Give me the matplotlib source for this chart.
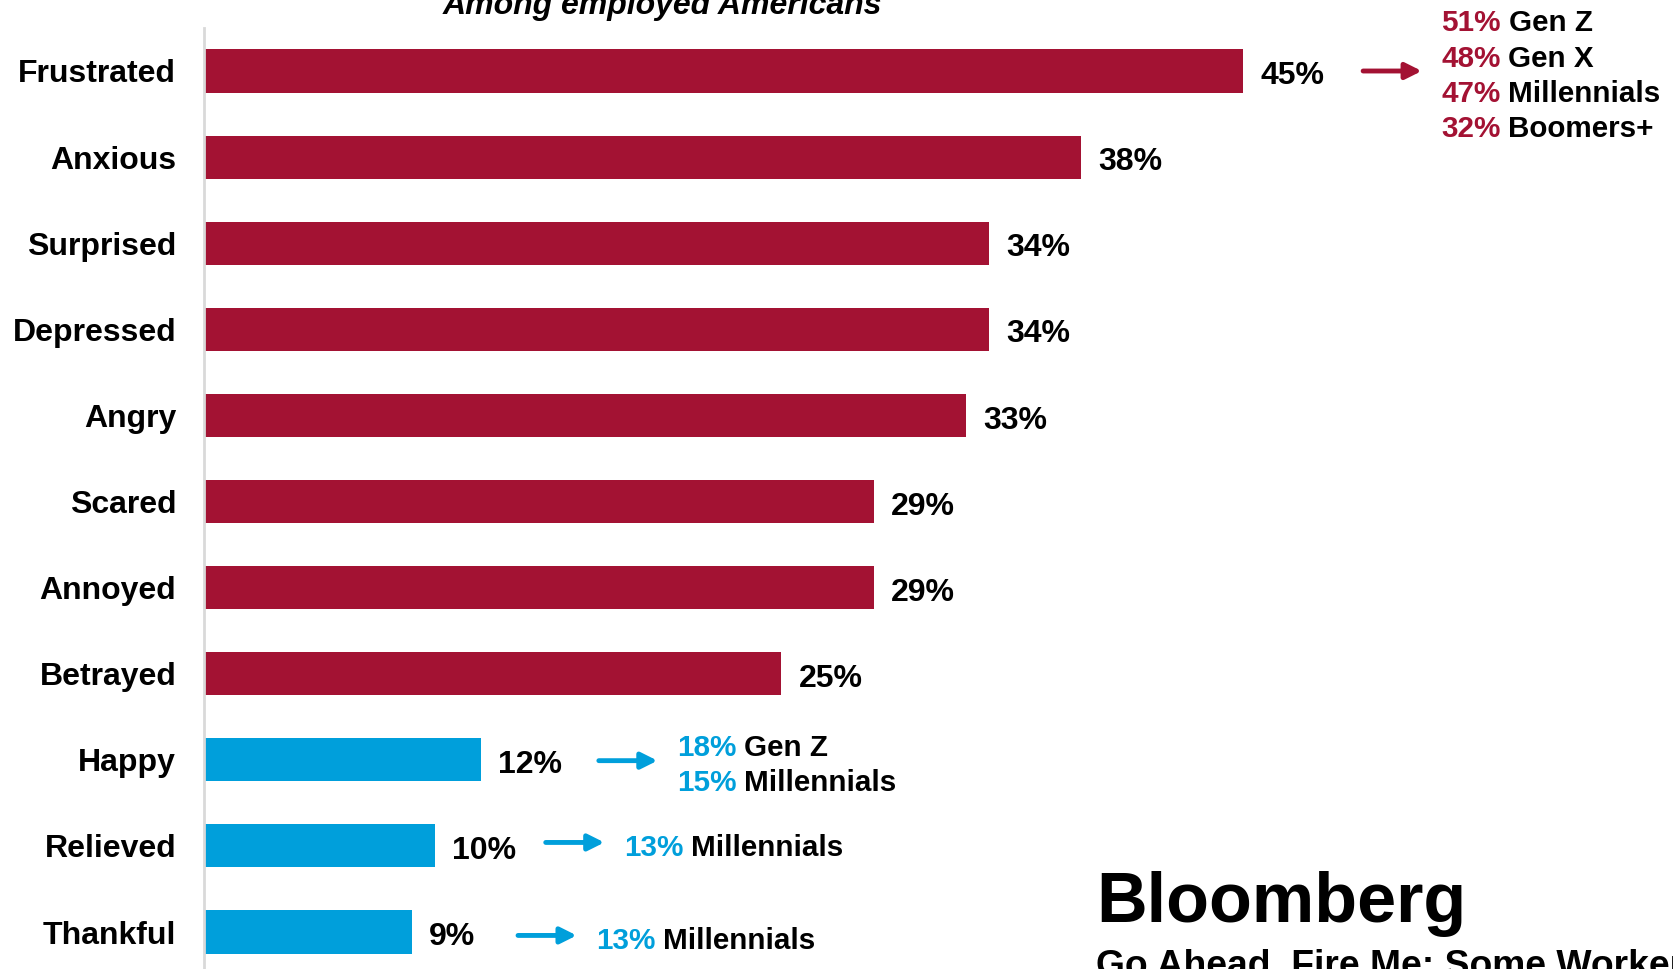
import matplotlib.pyplot as plt
import numpy as np

plt.rcParams['font.family'] = ['Liberation Sans', 'DejaVu Sans']

# data
emotions = ['Frustrated', 'Anxious', 'Surprised', 'Depressed', 'Angry', 'Scared',
            'Annoyed', 'Betrayed', 'Happy', 'Relieved', 'Thankful']
shares = [45, 38, 34, 34, 33, 29, 29, 25, 12, 10, 9]
negative = [True, True, True, True, True, True, True, True, False, False, False]

# generational breakdowns (row index -> list of (share, group))
frustrated_gen = [(51, 'Gen Z'), (48, 'Gen X'), (47, 'Millennials'), (32, 'Boomers+')]
happy_gen = [(18, 'Gen Z'), (15, 'Millennials')]
relieved_gen = [(13, 'Millennials')]
thankful_gen = [(13, 'Millennials')]
breakdowns = {0: frustrated_gen, 8: happy_gen, 9: relieved_gen, 10: thankful_gen}

# layout: where each callout arrow starts (gap after the bar, in % units) and its y nudge
arrow_gap = {0: 5.2, 8: 5.1, 9: 4.8, 10: 4.6}
arrow_dy = {0: 0.0, 8: 0.01, 9: -0.04, 10: 0.04}

RED = '#A31233'
BLUE = '#009FDB'

W, H = 1673, 969
PX_PER_PCT = 23.09
ROW = 86.1
fig = plt.figure(figsize=(W / 100, H / 100), dpi=100)
ax = fig.add_axes([204 / W, 0, 1 - 204 / W, (H - 28) / H])

y = np.arange(len(emotions))
colors = [RED if n else BLUE for n in negative]
ax.barh(y, shares, height=0.5, color=colors)

ax.set_xlim(0, (W - 204) / PX_PER_PCT)
ax.set_ylim((H - 71) / ROW, -(71 - 28) / ROW)

ax.set_yticks(y)
ax.set_yticklabels(emotions, fontsize=23, fontweight='bold')
ax.tick_params(axis='y', length=0, pad=20)
ax.set_xticks([])
for s in ['top', 'right', 'bottom']:
    ax.spines[s].set_visible(False)
ax.spines['left'].set_color('#D9D9D9')
ax.spines['left'].set_linewidth(2)

for yi, v in zip(y, shares):
    ax.text(v + 0.75, yi + 0.06, f'{v}%', fontsize=23, fontweight='bold',
            va='center', ha='left')

# generational callouts
line_gap = 0.41
for idx, rows in breakdowns.items():
    col = RED if negative[idx] else BLUE
    x0 = shares[idx] + arrow_gap[idx]
    x1 = x0 + 2.54
    ya = idx + arrow_dy[idx]
    ax.annotate('', xy=(x1, ya), xytext=(x0, ya),
                arrowprops=dict(arrowstyle='-|>', lw=3.5, color=col, mutation_scale=24,
                                shrinkA=0, shrinkB=0),
                annotation_clip=False)
    n = len(rows)
    ys = [ya + 0.06 + (k - (n - 1) / 2) * line_gap for k in range(n)]
    for (pct, grp), yy in zip(rows, ys):
        t = ax.text(x1 + 0.85, yy, f'{pct}%', color=col, fontsize=21.3,
                    fontweight='bold', va='center', ha='left', clip_on=False)
        ax.annotate(grp, xy=(1, 0.5), xycoords=t, xytext=(5.5, 0),
                    textcoords='offset points', fontsize=21.3, fontweight='bold',
                    va='center', ha='left', color='black', annotation_clip=False)

fig.text(662 / W, 1 - 14 / H, 'Among employed Americans', fontsize=23,
         fontweight='bold', fontstyle='italic', ha='center', va='baseline')

fig.text(1096 / W, 1 - 922 / H, 'Bloomberg', fontsize=50.5, fontweight='bold',
         ha='left', va='baseline')
fig.text(1096 / W, 1 - 976 / H, 'Go Ahead. Fire Me: Some Workers Are Ready to Quit',
         fontsize=26.8, fontweight='bold', ha='left', va='baseline')

fig.savefig('out.png', dpi=100)
